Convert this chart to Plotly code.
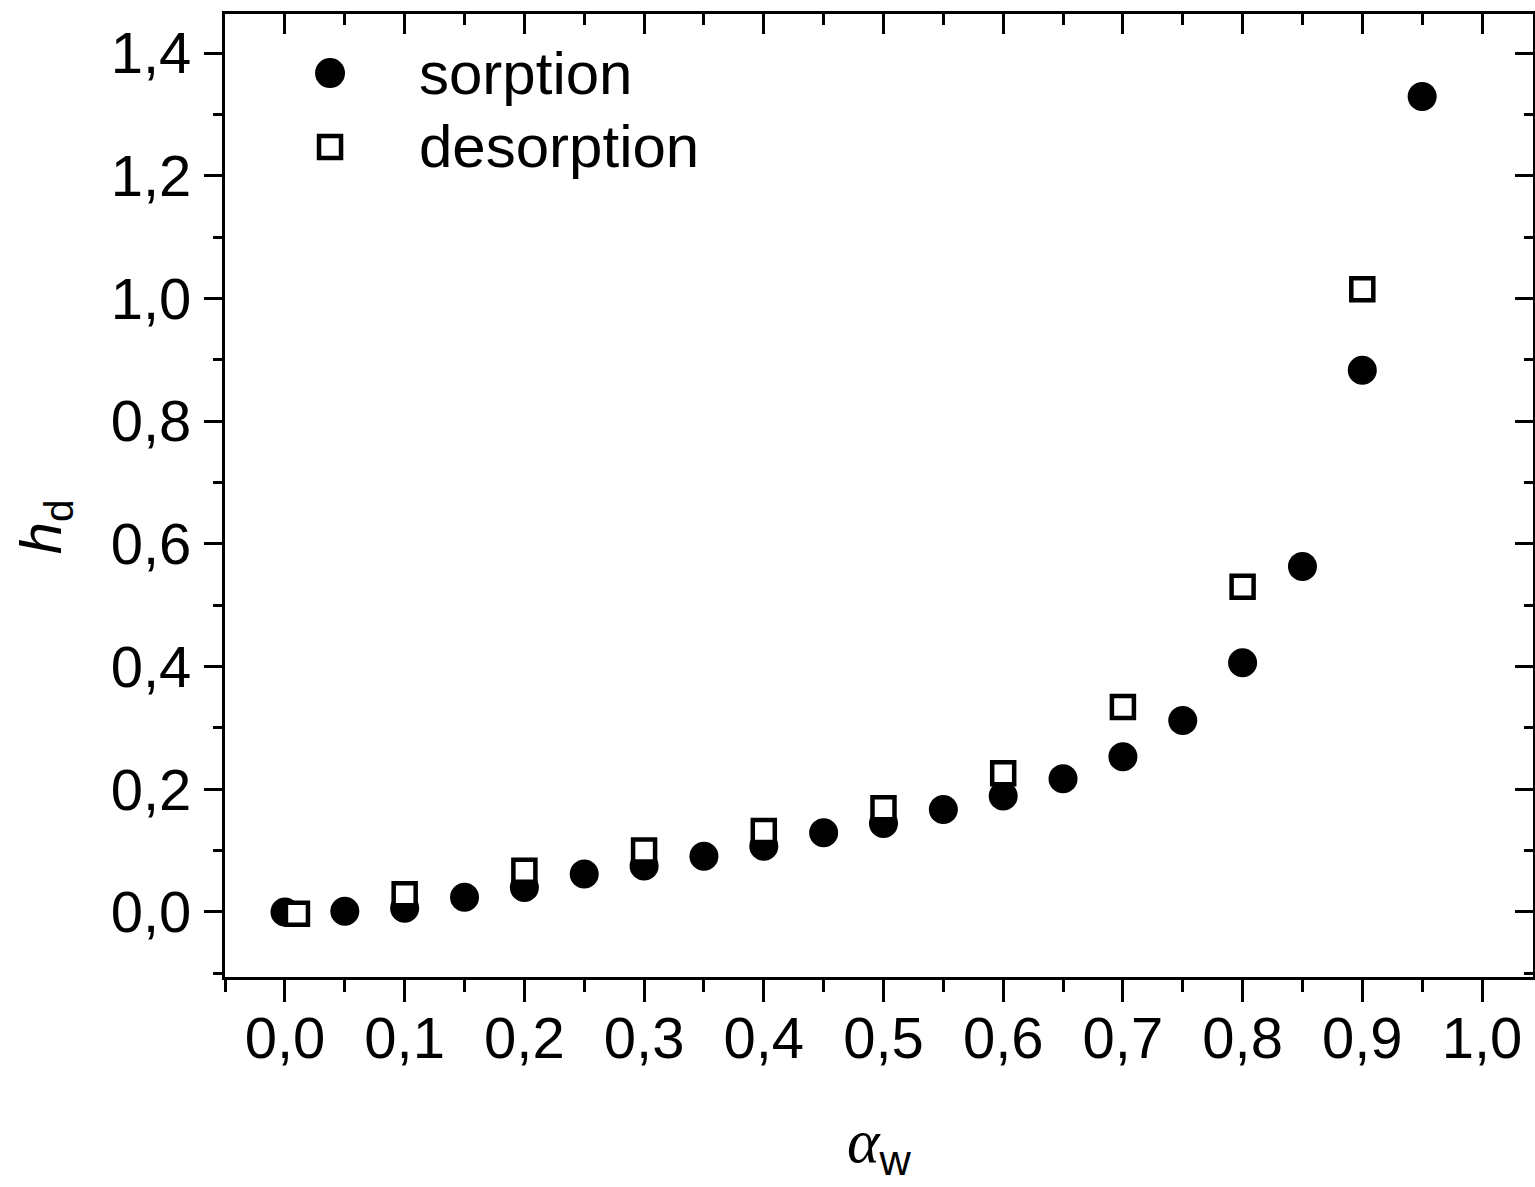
import plotly.graph_objects as go

# ---- data ----
sorption_x = [0.0, 0.05, 0.1, 0.15, 0.2, 0.25, 0.3, 0.35, 0.4, 0.45,
              0.5, 0.55, 0.6, 0.65, 0.7, 0.75, 0.8, 0.85, 0.9, 0.95]
sorption_y = [0.0, 0.001, 0.006, 0.024, 0.040, 0.062, 0.075, 0.091, 0.107, 0.129,
              0.144, 0.167, 0.189, 0.217, 0.253, 0.312, 0.406, 0.563, 0.883, 1.329]
desorption_x = [0.01, 0.1, 0.2, 0.3, 0.4, 0.5, 0.6, 0.7, 0.8, 0.9]
desorption_y = [-0.003, 0.029, 0.067, 0.100, 0.132, 0.169, 0.226, 0.334, 0.530, 1.015]
series_names = ["sorption", "desorption"]
x_ticks = [0.0, 0.1, 0.2, 0.3, 0.4, 0.5, 0.6, 0.7, 0.8, 0.9, 1.0]
y_ticks = [0.0, 0.2, 0.4, 0.6, 0.8, 1.0, 1.2, 1.4]

FONT = "Liberation Sans, Arial, sans-serif"
XR = [-0.0501, 1.0426]
YR = [-0.106, 1.4636]

fig = go.Figure()
fig.add_trace(go.Scatter(x=sorption_x, y=sorption_y, mode="markers", name=series_names[0],
                         marker=dict(symbol="circle", size=29, color="black", line=dict(width=0)),
                         showlegend=False))
fig.add_trace(go.Scatter(x=desorption_x, y=desorption_y, mode="markers", name=series_names[1],
                         marker=dict(symbol="square", size=22, color="white",
                                     line=dict(width=4.5, color="black")),
                         showlegend=False))
# empty trace so the mirrored top/right axes are drawn
fig.add_trace(go.Scatter(x=[], y=[], xaxis="x2", yaxis="y2", showlegend=False, hoverinfo="skip"))

common = dict(showline=True, linecolor="black", linewidth=3, showgrid=False, zeroline=False,
              tickcolor="black", tickwidth=3)

fig.update_layout(
    width=1535, height=1187,
    margin=dict(l=225, r=2, t=14, b=210),
    paper_bgcolor="white", plot_bgcolor="white",
    separators=", ",
    font=dict(family=FONT, size=58, color="black"),
    xaxis=dict(range=XR, tickvals=x_ticks, tickformat=".1f", ticks="outside", ticklen=22,
               ticklabelstandoff=-14,
               minor=dict(dtick=0.05, tick0=0, ticks="outside", ticklen=12, tickwidth=3, tickcolor="black"),
               tickfont=dict(size=58), **common),
    yaxis=dict(range=YR, tickvals=y_ticks, tickformat=".1f", ticks="outside", ticklen=18,
               ticklabelstandoff=1,
               minor=dict(dtick=0.1, tick0=0, ticks="outside", ticklen=9, tickwidth=3, tickcolor="black"),
               tickfont=dict(size=58), **common),
    xaxis2=dict(range=XR, overlaying="x", side="top", anchor="y2",
                tickvals=x_ticks, ticks="inside", ticklen=20, showticklabels=False,
                minor=dict(dtick=0.05, tick0=0, ticks="inside", ticklen=11, tickwidth=3, tickcolor="black"),
                **common),
    yaxis2=dict(range=YR, overlaying="y", side="right", anchor="x2",
                tickvals=y_ticks, ticks="inside", ticklen=18, showticklabels=False,
                minor=dict(dtick=0.1, tick0=0, ticks="inside", ticklen=9, tickwidth=3, tickcolor="black"),
                **common),
)

# legend (drawn as key symbols + labels)
leg_x = 0.0803
leg_text_x = 0.1468
leg_y = [0.9387, 0.8619]
fig.add_shape(type="circle", xref="paper", yref="paper", xsizemode="pixel", ysizemode="pixel",
              xanchor=leg_x, yanchor=leg_y[0], x0=-15, x1=15, y0=-15, y1=15,
              fillcolor="black", line=dict(width=0))
fig.add_shape(type="rect", xref="paper", yref="paper", xsizemode="pixel", ysizemode="pixel",
              xanchor=leg_x, yanchor=leg_y[1], x0=-11, x1=11, y0=-11, y1=11,
              fillcolor="white", line=dict(width=4.5, color="black"))
for name, yy in zip(series_names, leg_y):
    fig.add_annotation(x=leg_text_x, y=yy, xref="paper", yref="paper", text=name,
                       showarrow=False, xanchor="left", yanchor="middle",
                       font=dict(size=60, family=FONT, color="black"))

# axis titles
fig.add_annotation(x=-0.1376, y=0.467, xref="paper", yref="paper",
                   text="<i>h</i><sub>d</sub>", textangle=-90, showarrow=False,
                   xanchor="center", yanchor="middle", font=dict(size=58, family=FONT))
fig.add_annotation(x=0.5, y=-0.175, xref="paper", yref="paper",
                   text="<span style=\"font-family:'Liberation Serif'\"><i>α</i></span><sub>w</sub>",
                   showarrow=False, xanchor="center", yanchor="middle",
                   font=dict(size=62, family=FONT))

fig.write_html("out.html")
